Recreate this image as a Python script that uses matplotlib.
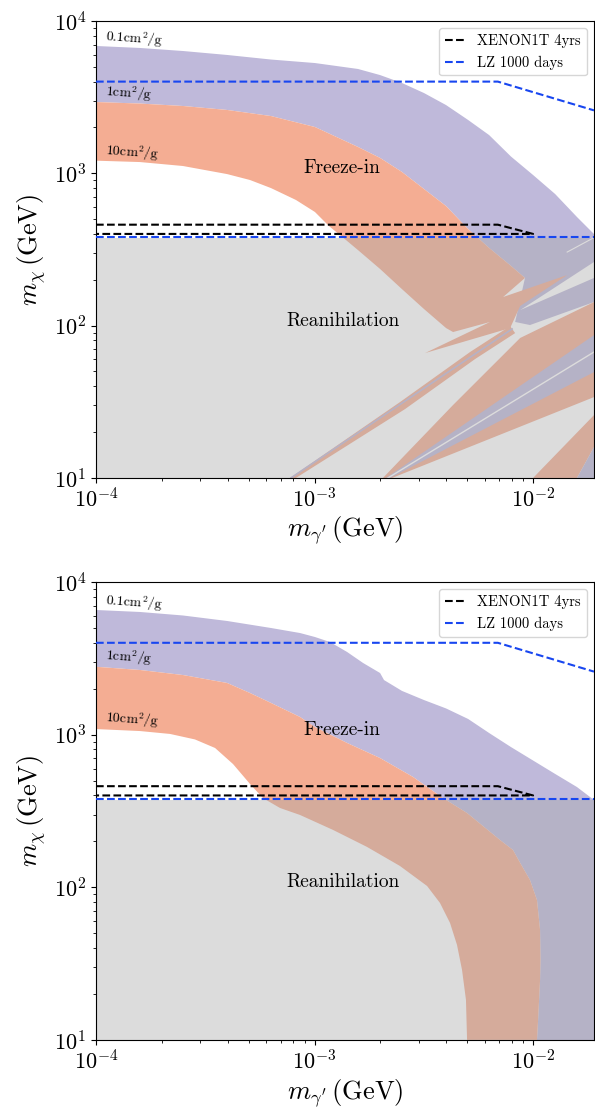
import numpy as np
import matplotlib
matplotlib.use('Agg')
import matplotlib.pyplot as plt

plt.rcParams['font.family'] = 'serif'
plt.rcParams['font.serif'] = ['cmr10']
plt.rcParams['mathtext.fontset'] = 'cm'
plt.rcParams['axes.formatter.use_mathtext'] = True
plt.rcParams['axes.unicode_minus'] = False

# colours
c_purple = '#bfb9da'
c_orange = '#f4ad93'
c_gray = '#a8a8a8'
c_blue = '#1846f0'

# ---- data, log10 of (m_gamma', m_chi) in GeV ----
# top panel: attractive case
top_x01 = [-4.000, -3.799, -3.602, -3.400, -3.199, -2.998, -2.801, -2.700, -2.600, -2.499,
           -2.398, -2.297, -2.201, -2.101, -2.000, -1.899, -1.799, -1.721]
top_y01 = [3.836, 3.823, 3.803, 3.777, 3.747, 3.724, 3.685, 3.645, 3.593, 3.527,
           3.448, 3.350, 3.251, 3.110, 2.989, 2.864, 2.713, 2.601]
top_x1 = [-4.000, -3.799, -3.602, -3.400, -3.199, -2.998, -2.801, -2.700, -2.600, -2.499,
          -2.398, -2.297, -2.201, -2.101, -2.037]
top_y1 = [3.468, 3.458, 3.442, 3.416, 3.376, 3.304, 3.173, 3.101, 3.009, 2.897,
          2.785, 2.634, 2.510, 2.392, 2.313]
top_x10 = [-4.000, -3.799, -3.602, -3.400, -3.295, -3.199, -3.085, -2.998, -2.934, -2.856,
           -2.801, -2.700, -2.600, -2.499, -2.398, -2.366]
top_y10 = [3.083, 3.074, 3.048, 2.995, 2.956, 2.903, 2.825, 2.746, 2.654, 2.562,
           2.496, 2.372, 2.240, 2.109, 1.984, 1.958]
# end of main 1-10 band: notch, spike tips
top_tip_x = [-2.137, -1.844, -2.059, -2.105, -2.494, -2.197]
top_tip_y = [2.188, 2.332, 2.129, 1.984, 1.820, 2.024]
# lower edge of the main 0.1-1 band on the right
top_pedge_x = [-1.721, -2.014, -2.082]
top_pedge_y = [2.155, 2.004, 2.024]
# resonance strips
gapA_x = [-2.059, -1.721, -1.721]
gapA_y = [2.102, 2.418, 2.313]
lineA2_x = [-1.844, -1.725]
lineA2_y = [2.483, 2.575]
stripA_x = [-3.112, -2.609, -2.288, -2.105, -2.082, -2.265, -2.586, -3.085]
stripA_y = [1.000, 1.498, 1.827, 1.997, 1.951, 1.781, 1.452, 1.000]
lineA_x = [-3.108, -2.096]
lineA_y = [1.000, 1.978]
stripB_ox = [-2.687, -2.366, -2.059, -1.721, -1.721, -2.645]
stripB_oy = [1.000, 1.479, 1.919, 2.155, 1.531, 1.000]
stripB_px = [-2.673, -1.721, -1.721, -2.654]
stripB_py = [1.000, 1.938, 1.695, 1.000]
lineB_x = [-2.664, -1.721]
lineB_y = [1.000, 1.827]
stripC_ox = [-2.000, -1.721, -1.721, -1.799]
stripC_oy = [1.000, 1.413, 1.203, 1.000]
stripC_px = [-1.799, -1.721, -1.721]
stripC_py = [1.000, 1.203, 1.000]

# bottom panel: repulsive case
bot_x01 = [-4.000, -3.799, -3.602, -3.400, -3.199, -3.066, -2.998, -2.929, -2.851, -2.778,
           -2.700, -2.682, -2.600, -2.499, -2.398, -2.297, -2.201, -2.101, -2.000, -1.899,
           -1.799, -1.721]
bot_y01 = [3.817, 3.804, 3.781, 3.745, 3.699, 3.666, 3.640, 3.607, 3.542, 3.470,
           3.404, 3.358, 3.287, 3.227, 3.172, 3.103, 3.011, 2.919, 2.831, 2.743,
           2.657, 2.572]
bot_x1 = [-4.000, -3.799, -3.602, -3.400, -3.295, -3.199, -3.066, -2.998, -2.851, -2.700,
          -2.549, -2.412, -2.302, -2.151, -2.092, -2.059, -2.014, -1.982, -1.968, -1.966,
          -1.968, -1.977, -1.982]
bot_y1 = [3.445, 3.424, 3.391, 3.339, 3.273, 3.208, 3.116, 3.050, 2.946, 2.847,
          2.723, 2.585, 2.487, 2.310, 2.245, 2.160, 2.048, 1.917, 1.721, 1.525,
          1.394, 1.132, 1.001]
bot_x10 = [-4.000, -3.799, -3.661, -3.547, -3.455, -3.373, -3.295, -3.236, -3.158, -3.066,
           -2.915, -2.760, -2.609, -2.485, -2.426, -2.380, -2.348, -2.325, -2.307, -2.302]
bot_y10 = [3.037, 3.024, 3.005, 2.969, 2.913, 2.808, 2.677, 2.585, 2.520, 2.474,
           2.376, 2.265, 2.140, 2.009, 1.898, 1.767, 1.623, 1.459, 1.263, 1.001]

# direct detection lines (GeV)
xenon_x = [1e-4, 6.9e-3, 1e-2, 1e-4]
xenon_y = [460, 460, 400, 400]
lz_x = [1e-4, 6.9e-3, 1.9e-2]
lz_y = [4000, 4000, 2590]
lz_low = 382
reann_top = 375

xmin, xmax = 1e-4, 1.9e-2
ymin, ymax = 10, 1e4


def poly(ax, xs, ys, color, z=1):
    ax.fill(10 ** np.array(xs), 10 ** np.array(ys), color=color, lw=0, zorder=z)


def line(ax, xs, ys, color, lw, z):
    ax.plot(10 ** np.array(xs), 10 ** np.array(ys), color=color, lw=lw, zorder=z)


def finish(ax):
    ax.fill_between([xmin, xmax], ymin, reann_top, color=c_gray, alpha=0.4, lw=0, zorder=2)
    ax.plot(xenon_x, xenon_y, '--', color='k', lw=1.5, zorder=3, label='XENON1T 4yrs')
    ax.plot(lz_x, lz_y, '--', color=c_blue, lw=1.5, zorder=3, label='LZ 1000 days')
    ax.plot([xmin, xmax], [lz_low, lz_low], '--', color=c_blue, lw=1.5, zorder=3)
    ax.set_xscale('log')
    ax.set_yscale('log')
    ax.set_xlim(xmin, xmax)
    ax.set_ylim(ymin, ymax)
    ax.set_xlabel(r"$m_{\gamma'}\,(\mathrm{GeV})$", fontsize=19, labelpad=2)
    ax.set_ylabel(r"$m_{\chi}\,(\mathrm{GeV})$", fontsize=19)
    ax.tick_params(labelsize=16)
    ax.legend(loc='upper right', fontsize=10.5, handlelength=1.4)
    ax.text(1.34e-3, 1000, 'Freeze-in', fontsize=14, ha='center', va='baseline', zorder=4)
    ax.text(1.35e-3, 100, 'Reanihilation', fontsize=14, ha='center', va='baseline', zorder=4)


fig = plt.figure(figsize=(5.95, 11.11), dpi=100)
ax1 = fig.add_axes([0.1613, 0.5698, 0.837, 0.4113])
ax2 = fig.add_axes([0.1613, 0.0639, 0.837, 0.4122])

# ---- top ----
px = top_x01 + top_pedge_x + top_x1[::-1]
py = top_y01 + top_pedge_y + top_y1[::-1]
poly(ax1, px, py, c_purple)
ox = top_x1 + top_tip_x + top_x10[::-1]
oy = top_y1 + top_tip_y + top_y10[::-1]
poly(ax1, ox, oy, c_orange)
poly(ax1, stripA_x, stripA_y, c_orange)
line(ax1, lineA_x, lineA_y, c_purple, 1.2, 1.2)
poly(ax1, stripB_ox, stripB_oy, c_orange)
poly(ax1, stripB_px, stripB_py, c_purple, 1.1)
poly(ax1, stripC_ox, stripC_oy, c_orange)
poly(ax1, stripC_px, stripC_py, c_purple)
poly(ax1, gapA_x, gapA_y, 'white', 1.5)
line(ax1, lineA2_x, lineA2_y, 'white', 0.8, 1.5)
line(ax1, lineB_x, lineB_y, 'white', 1.0, 1.5)
finish(ax1)
ax1.text(1.1e-4, 10 ** 3.842, r'$0.1\mathrm{cm}^2/\mathrm{g}$', fontsize=10, rotation=-4, zorder=4)
ax1.text(1.1e-4, 10 ** 3.488, r'$1\mathrm{cm}^2/\mathrm{g}$', fontsize=10, rotation=-4, zorder=4)
ax1.text(1.1e-4, 10 ** 3.094, r'$10\mathrm{cm}^2/\mathrm{g}$', fontsize=10, rotation=-4, zorder=4)

# ---- bottom ----
px = bot_x01 + [-1.721, -1.982] + bot_x1[::-1]
py = bot_y01 + [1.0, 1.0] + bot_y1[::-1]
poly(ax2, px, py, c_purple)
ox = bot_x1 + bot_x10[::-1]
oy = bot_y1 + bot_y10[::-1]
poly(ax2, ox, oy, c_orange)
finish(ax2)
ax2.text(1.1e-4, 10 ** 3.823, r'$0.1\mathrm{cm}^2/\mathrm{g}$', fontsize=10, rotation=-4, zorder=4)
ax2.text(1.1e-4, 10 ** 3.470, r'$1\mathrm{cm}^2/\mathrm{g}$', fontsize=10, rotation=-4, zorder=4)
ax2.text(1.1e-4, 10 ** 3.057, r'$10\mathrm{cm}^2/\mathrm{g}$', fontsize=10, rotation=-4, zorder=4)

fig.savefig('out.png', dpi=100)
